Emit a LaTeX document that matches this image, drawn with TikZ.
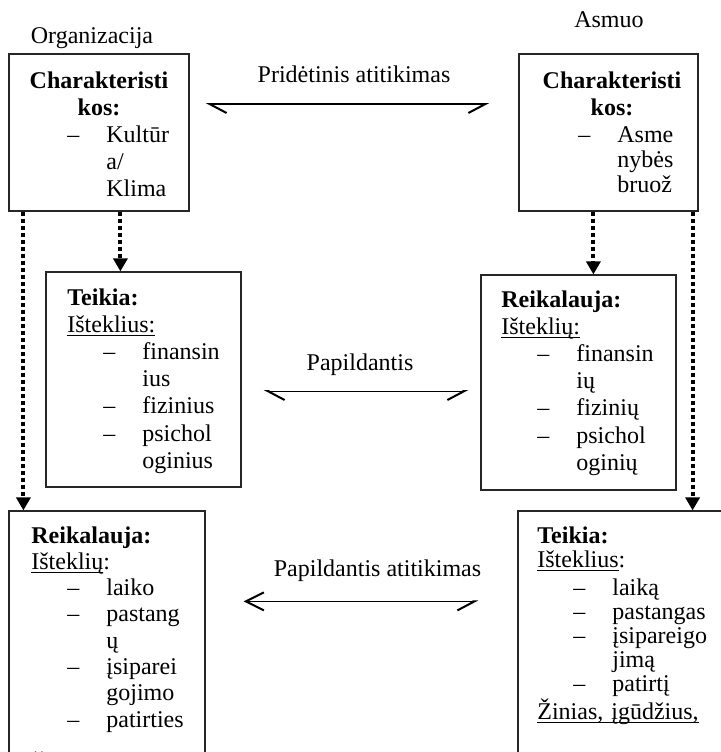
\documentclass[tikz,border=0pt]{standalone}
\usepackage{fontspec}
\setmainfont{Liberation Serif}
\usetikzlibrary{arrows.meta}

\newsavebox{\ulbox}
\newcommand{\undl}[1]{\leavevmode\sbox{\ulbox}{#1}\rlap{\rule[-2pt]{\wd\ulbox}{0.65pt}}\usebox{\ulbox}}
\newcommand{\dashln}[1]{\hspace*{18pt}\makebox[19.5pt][l]{–}#1}
\newcommand{\contln}[1]{\hspace*{37.5pt}#1}

\tikzset{
	box/.style={draw=black!85, line width=0.6pt, inner sep=0pt},
	txt/.style={inner sep=0pt, align=left, text width=95pt, anchor=base west, font=\fontsize{12}{13.5}\selectfont},
	lbl/.style={inner sep=0pt, anchor=base, font=\fontsize{12}{13.5}\selectfont},
	dotarrow/.style={line width=2pt, dash pattern=on 2pt off 1.5pt, -{Triangle[length=6.5pt,width=7pt]}},
	fitline/.style={line width=0.7pt},
	harpL/.tip={Straight Barb[harpoon, length=8.5pt, width=9pt, line width=1pt]},
	harpR/.tip={Straight Barb[harpoon, swap, length=8.5pt, width=9pt, line width=1pt]},
	openL/.tip={Straight Barb[length=9pt, width=9pt, line width=1pt]},
}

\begin{document}
\begin{tikzpicture}[x=0.5pt, y=-0.5pt]
		\useasboundingbox (0,0) rectangle (721,752);
		
		% Headings
		\node[lbl] (orgname) at (92,43) {Organizacija};
		\node[lbl] (persname) at (609,27) {Asmuo};
		
		% Characteristics
		\node[box, minimum width=90pt, minimum height=78.5pt] (orgchar) at (99,132.5) {};
		\node[txt, align=center, text width=88pt, anchor=base] (orgchartitle) at (99,88) {\textbf{Charakteristi}\\\textbf{kos:}};
		\node[txt] (orgcharlist) at (31,142) {\dashln{Kultūr}\\\contln{a/}\\\contln{Klima}};
		
		\node[box, minimum width=89.5pt, minimum height=78.5pt] (perschar) at (608.5,132.5) {};
		\node[txt, align=center, text width=88pt, anchor=base] (perschartitle) at (612,88) {\textbf{Charakteristi}\\\textbf{kos:}};
		\node[txt, font=\fontsize{12}{12.5}\selectfont] (perscharlist) at (542,142) {\dashln{Asme}\\\contln{nybės}\\\contln{bruož}};
		
		% Middle boxes
		\node[box, minimum width=97.5pt, minimum height=107.5pt] (orggive) at (143.5,379.5) {};
		\node[txt, font=\fontsize{12}{13.6}\selectfont] (orggivetext) at (67,305) {\textbf{Teikia:}\\\undl{Išteklius:}\\\dashln{finansin}\\\contln{ius}\\\dashln{fizinius}\\\dashln{psichol}\\\contln{oginius}};
		
		\node[box, minimum width=97.5pt, minimum height=107.5pt] (persreq) at (578.5,382.5) {};
		\node[txt, font=\fontsize{12}{13.6}\selectfont] (persreqtext) at (501,307) {\textbf{Reikalauja:}\\\undl{Išteklių:}\\\dashln{finansin}\\\contln{ių}\\\dashln{fizinių}\\\dashln{psichol}\\\contln{oginių}};
		
		% Bottom boxes
		\node[box, minimum width=98pt, minimum height=144.5pt] (orgreq) at (107,655.5) {};
		\node[txt, font=\fontsize{12}{13.15}\selectfont] (orgreqtext) at (31,543) {\textbf{Reikalauja:}\\\undl{Išteklių}:\\\dashln{laiko}\\\dashln{pastang}\\\contln{ų}\\\dashln{įsiparei}\\\contln{gojimo}\\\dashln{patirties}\\[9.5pt]\undl{Žinių, įgūdžių,}};
		
		\node[box, minimum width=104pt, minimum height=144.5pt] (persgive) at (622,655.5) {};
		\node[txt, font=\fontsize{12}{12.05}\selectfont] (persgivetext) at (537,543) {\textbf{Teikia:}\\\undl{Išteklius}:\\[2pt]\dashln{laiką}\\\dashln{pastangas}\\\dashln{įsipareigo}\\\contln{jimą}\\\dashln{patirtį}\\\undl{Žinias, įgūdžius,}};
		
		% Dotted links
		\coordinate (d1) at ([xshift=7.5pt]orgchar.south west);
		\coordinate (d2) at ([xshift=56pt]orgchar.south west);
		\coordinate (d3) at ([xshift=37.5pt]perschar.south west);
		\coordinate (d4) at ([xshift=-3pt]perschar.south east);
		\draw[dotarrow] (d1) -- (d1 |- orgreq.north);
		\draw[dotarrow] (d2) -- (d2 |- orggive.north);
		\draw[dotarrow] (d3) -- (d3 |- persreq.north);
		\draw[dotarrow] (d4) -- (d4 |- persgive.north);
		
		% Fit arrows
		\draw[fitline, harpL-harpR] ([shift={(16,-28.5)}]orgchar.east) -- ([shift={(-29,-28.5)}]perschar.west);
		\node[lbl] (addfit) at (354,82) {Pridėtinis atitikimas};
		
		\draw[fitline, line width=0.5pt, harpL-harpR] ([shift={(22,11.5)}]orggive.east) -- ([shift={(-12,8.5)}]persreq.west);
		\node[lbl] (compl) at (360,370) {Papildantis};
		
		\draw[fitline, openL-harpR] ([shift={(38,91)}]orgreq.north east) -- ([shift={(-39,91)}]persgive.north west);
		\node[lbl] (complfit) at (377.5,576) {Papildantis atitikimas};
		
	\end{tikzpicture}
\end{document}
